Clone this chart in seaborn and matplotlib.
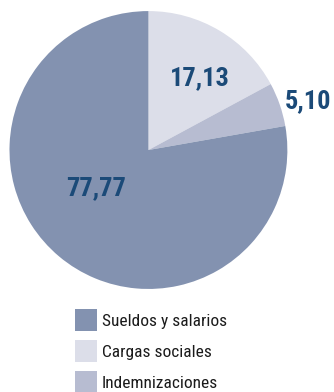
import matplotlib
matplotlib.use("Agg")
import matplotlib.pyplot as plt
import seaborn as sns
from matplotlib.patches import Rectangle

# Distribution of personnel costs (%)
categories = ["Sueldos y salarios", "Cargas sociales", "Indemnizaciones"]
values = [77.77, 17.13, 5.10]
value_labels = ["77,77", "17,13", "5,10"]

colors = ["#8392b0", "#dcdee9", "#b7bcd1"]
text_color = "#1b4a78"

sns.set_theme(style="white")
plt.rcParams["font.family"] = ["Roboto Condensed", "Liberation Sans Narrow", "Roboto", "DejaVu Sans"]
plt.rcParams["font.stretch"] = "condensed"

W, H = 334, 392
fig = plt.figure(figsize=(W / 100, H / 100), dpi=100)
fig.patch.set_facecolor("white")

ax = fig.add_axes([0.0284, 0.2628, 0.832, 0.709])

# Draw wedges clockwise from 12 o'clock: Cargas, Indemnizaciones, Sueldos
order = [1, 2, 0]
wedges, _ = ax.pie(
    [values[i] for i in order],
    colors=[colors[i] for i in order],
    startangle=90,
    counterclock=False,
    radius=1,
    wedgeprops=dict(linewidth=0),
)
ax.set_xlim(-1, 1)
ax.set_ylim(-1, 1)
ax.set_aspect("equal")
ax.axis("off")

label_pos = {
    0: (-0.378, -0.273),
    1: (0.37, 0.52),
    2: (1.147, 0.353),
}
for i, lbl in enumerate(value_labels):
    x, y = label_pos[i]
    ax.text(x, y, lbl, ha="center", va="center", fontsize=19,
            fontweight="bold", color=text_color, clip_on=False)

# Legend: colour squares with category names, one row every 31 px
sq = 22
for k, (name, c) in enumerate(zip(categories, colors)):
    top = 309 + 31 * k
    fig.add_artist(Rectangle((75 / W, 1 - (top + sq) / H), sq / W, sq / H,
                             transform=fig.transFigure, facecolor=c,
                             edgecolor="none"))
    fig.text(102 / W, 1 - (top + 17.3) / H, name, ha="left", va="baseline",
             fontsize=12.5, color="#1a1a1a")

fig.savefig("out.png", dpi=100, facecolor="white")
